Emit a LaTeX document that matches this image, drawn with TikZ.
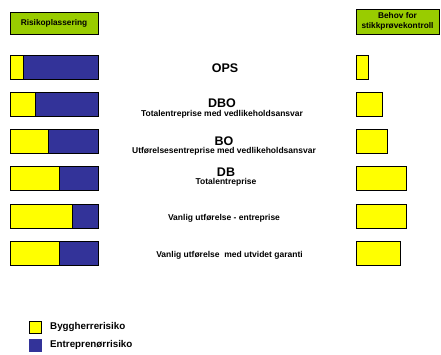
\documentclass[tikz,border=0pt]{standalone}
\usepackage{fontspec}
\setmainfont{Liberation Sans}
\usetikzlibrary{positioning,shadows}

\definecolor{headgreen}{HTML}{99CC00}
\definecolor{ownyellow}{HTML}{FFFF00}
\definecolor{entblue}{HTML}{333399}

\tikzstyle{box} = [rectangle, draw=black, line width=0.8pt, inner sep=0pt, outer sep=0pt, drop shadow={shadow xshift=0.9pt, shadow yshift=-0.9pt, fill=black!45}]
\tikzstyle{header} = [box, fill=headgreen, minimum height=22pt, text centered, font=\fontsize{8.3}{10.5}\selectfont\bfseries, align=center]
\tikzstyle{owner} = [box, fill=ownyellow, minimum height=24pt, anchor=north west]
\tikzstyle{contractor} = [box, fill=entblue, minimum height=24pt]
\tikzstyle{title} = [inner sep=0pt, font=\fontsize{12.5}{14}\selectfont\bfseries]
\tikzstyle{sub} = [inner sep=0pt, font=\fontsize{8.5}{10}\selectfont\bfseries]
\tikzstyle{legend} = [inner sep=0pt, anchor=west, font=\fontsize{9.8}{12}\selectfont\bfseries]

\begin{document}
\begin{tikzpicture}[x=1pt,y=-1pt]
\useasboundingbox (0,0) rectangle (441,354);

%Headers
\node (H1) [header, minimum width=88pt, anchor=north west] at (10,12) {Risikoplassering};
\node (H2) [header, minimum width=83pt, minimum height=25pt, anchor=north west] at (356,9) {Behov for\\stikkprøvekontroll};

%Risk split
\node (Y1) [owner, minimum width=13pt] at (10,55) {};
\node (B1) [contractor, minimum width=75pt, right=0pt of Y1] {};
\node (Y2) [owner, minimum width=25pt] at (10,92) {};
\node (B2) [contractor, minimum width=63pt, right=0pt of Y2] {};
\node (Y3) [owner, minimum width=38pt] at (10,129) {};
\node (B3) [contractor, minimum width=50pt, right=0pt of Y3] {};
\node (Y4) [owner, minimum width=49pt] at (10,166.5) {};
\node (B4) [contractor, minimum width=39pt, right=0pt of Y4] {};
\node (Y5) [owner, minimum width=62pt] at (10,204) {};
\node (B5) [contractor, minimum width=26pt, right=0pt of Y5] {};
\node (Y6) [owner, minimum width=49pt] at (10,241) {};
\node (B6) [contractor, minimum width=39pt, right=0pt of Y6] {};

%Contract forms
\node (P1) [title] at (225,68) {OPS};
\node (P2) [title] at (222,103.5) {DBO};
\node (S2) [sub, below=2.5pt of P2] {Totalentreprise med vedlikeholdsansvar};
\node (P3) [title] at (224,141) {BO};
\node (S3) [sub, below=2pt of P3] {Utførelsesentreprise med vedlikeholdsansvar};
\node (P4) [title] at (226,172) {DB};
\node (S4) [sub, below=2pt of P4] {Totalentreprise};
\node (S5) [sub] at (224,218.5) {Vanlig utførelse - entreprise};
\node (S6) [sub] at (229.5,255.5) {Vanlig utførelse \ med utvidet garanti};

%Spot checks
\node (K1) [owner, minimum width=12pt] at (356,55) {};
\node (K2) [owner, minimum width=26pt] at (356,92) {};
\node (K3) [owner, minimum width=31pt] at (356,129) {};
\node (K4) [owner, minimum width=50pt] at (356,166.5) {};
\node (K5) [owner, minimum width=50pt] at (356,204) {};
\node (K6) [owner, minimum width=44pt] at (356,241) {};

%Legend
\node (L1) [box, fill=ownyellow, minimum size=12pt, anchor=north west, drop shadow={opacity=0}] at (29,321) {};
\node (L2) [rectangle, fill=entblue, minimum size=12.5pt, inner sep=0pt, anchor=north west] at (29,339) {};
\node (T1) [legend] at (50,326.5) {Byggherrerisiko};
\node (T2) [legend] at (50,344.5) {Entreprenørrisiko};

\end{tikzpicture}
\end{document}
